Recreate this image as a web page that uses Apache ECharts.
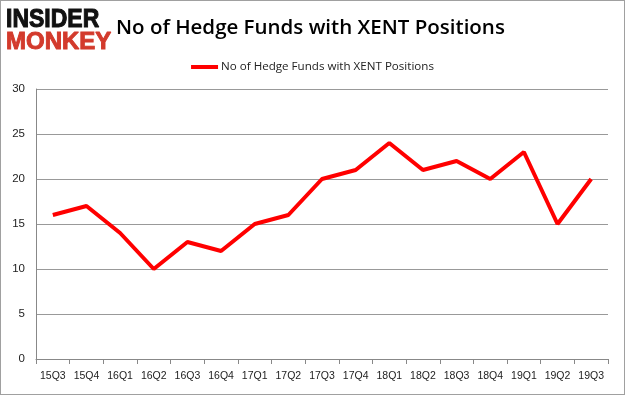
<!DOCTYPE html>
<html><head><meta charset="utf-8">
<script src="https://cdn.jsdelivr.net/npm/echarts@6/dist/echarts.min.js"></script>
<style>html,body{margin:0;padding:0;background:#fff}#c{width:625px;height:395px;box-sizing:border-box;border:1px solid #a0a0a0}</style>
</head><body><div id="c"></div>
<script>
const categories = ['15Q3','15Q4','16Q1','16Q2','16Q3','16Q4','17Q1','17Q2','17Q3','17Q4','18Q1','18Q2','18Q3','18Q4','19Q1','19Q2','19Q3'];
const hedgeFunds = [16,17,14,10,13,12,15,16,20,21,24,21,22,20,23,15,20];
const seriesName = 'No of Hedge Funds with XENT Positions';
const chart = echarts.init(document.getElementById('c'));
chart.setOption({
  animation:false,
  title:{text:'No of Hedge Funds with XENT Positions',left:110,top:12,textStyle:{fontFamily:'Open Sans',fontSize:20.5,fontWeight:600,color:'#000'}},
  graphic:[
    {type:'text',x:5,y:6,scaleX:1.15,scaleY:1.3,style:{text:'INSIDER',font:'bold 20px "Liberation Sans"',fill:'#111',stroke:'#111',lineWidth:0.8}},
    {type:'text',x:5,y:29,scaleX:1.2,scaleY:1.2,style:{text:'MONKEY',font:'bold 20px "Liberation Sans"',fill:'#d33a2c',stroke:'#d33a2c',lineWidth:0.8}}
  ],
  legend:{top:55,left:'center',itemWidth:27,itemHeight:4,icon:'rect',itemGap:4,textStyle:{fontFamily:'Open Sans',fontSize:11.6,color:'#222',padding:[0,0,0,-2]},data:[seriesName]},
  grid:{left:35,right:16,top:88,bottom:35,containLabel:false},
  xAxis:{type:'category',data:categories,boundaryGap:true,
    axisLine:{lineStyle:{color:'#888'}},axisTick:{show:true,alignWithLabel:false,length:5,lineStyle:{color:'#888'}},
    axisLabel:{interval:0,margin:12,fontFamily:'Liberation Sans',fontSize:10.5,color:'#222'}},
  yAxis:{type:'value',min:0,max:30,interval:5,
    axisLine:{show:true,lineStyle:{color:'#888'}},axisTick:{show:false},
    splitLine:{lineStyle:{color:'#999'}},
    axisLabel:{margin:11,fontFamily:'Liberation Sans',fontSize:11.5,color:'#222'}},
  series:[{name:seriesName,type:'line',data:hedgeFunds,symbol:'none',lineStyle:{color:'#ff0000',width:4},itemStyle:{color:'#ff0000'}}]
});
</script></body></html>
